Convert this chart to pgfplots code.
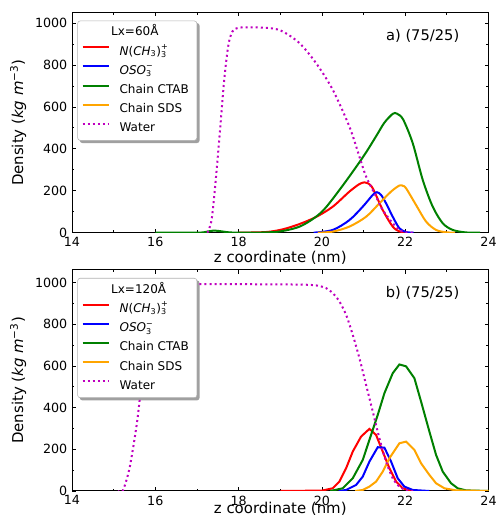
\documentclass[border=0pt]{standalone}
\usepackage{fontspec}
\setmainfont{DejaVu Sans}
\usepackage{amsmath}
\usepackage{pgfplots}
\pgfplotsset{compat=1.18}
\usetikzlibrary{backgrounds}
\definecolor{mpgreen}{HTML}{008000}
\definecolor{mporange}{HTML}{FFA500}
\definecolor{mpmag}{HTML}{BF00BF}

\pgfplotsset{
  dens/.style={
    scale only axis,width=312.4pt,
    xmin=14,xmax=24,ymin=0,
    xtick={14,16,...,24},ytick={0,200,...,1000},
    minor x tick num=1,minor y tick num=1,
    tick align=inside,xtick pos=both,ytick pos=both,
    major tick length=2.8pt,minor tick length=1.8pt,
    axis line style={line width=0.75pt},
    every tick/.style={black,line width=0.6pt},
    tick label style={font=\fontsize{9.5}{11}\selectfont},
    /pgf/number format/assume math mode=true,
    /pgf/number format/1000 sep={},
    label style={font=\fontsize{11.2}{13}\selectfont},
    xlabel={z coordinate (nm)},
    ylabel={Density (\textit{kg}\ \textit{m}\textsuperscript{−3})},
    ylabel style={at={(axis description cs:-0.109,0.5)},anchor=south,inner sep=0pt},
    legend cell align=left,
    legend image code/.code={\draw[#1] (0pt,3.5pt) -- (19.5pt,3.5pt);},
    legend style={at={(0,1)},anchor=north west,xshift=4pt,yshift=-6pt,
      draw=black!30,rounded corners=2pt,fill=white,
      font=\fontsize{9}{11}\selectfont,
      inner xsep=3pt,inner ysep=2.3pt,row sep=1.4pt,column sep=6.5pt,
      nodes={inner sep=1pt,text height=8pt,text depth=3pt}},
    every axis plot/.append style={line width=1.5pt},
  },
  water/.style={mpmag,dash pattern=on 1.5pt off 2.3pt},
}
\newcommand\legshadow[1]{%
  \begin{scope}[on background layer]
    \fill[black!50,opacity=0.75,rounded corners=2pt]
      ([shift={(1.8pt,-1.8pt)}]#1.south west) rectangle ([shift={(1.8pt,-1.8pt)}]#1.north east);
  \end{scope}}

\begin{document}
\begin{tikzpicture}
\useasboundingbox (0,0) rectangle (372pt,390pt);

% ---- a) Lx = 60 A
\begin{axis}[dens,at={(54pt,215.5pt)},anchor=south west,height=165pt,ymax=1050,
  xlabel style={at={(axis description cs:0.5,0)},anchor=north,yshift=-14pt,inner sep=0pt},
  legend style={name=legA}]
\addlegendimage{empty legend}
\addlegendentry{\hspace*{-6.3pt}Lx=60Å}
\addplot[red,smooth] coordinates {(18.0,0)(18.66,3)(19.06,16)(19.46,41)(19.86,75)(20.26,124)(20.66,196)(20.9,232)(21.02,240)(21.1,236)(21.22,212)(21.46,108)(21.7,29)(21.86,6)(22.0,0)};
\addlegendentry{$\textit{N}\text{(}\textit{CH}_{\text{3}}\text{)}_{\text{3}}^{\text{+}}$}
\addplot[blue,smooth] coordinates {(19.8,0)(20.26,13)(20.66,60)(20.98,124)(21.22,180)(21.32,193)(21.42,180)(21.54,140)(21.7,76)(21.86,21)(22.02,3)(22.2,0)};
\addlegendentry{$\textit{OSO}_{\text{3}}^{\text{−}}$}
\addplot[mpgreen,smooth] coordinates {(16.0,0)(17.0,0)(17.2,3)(17.4,10)(17.6,6)(17.8,1)(18.2,0)(18.6,1)(19.0,6)(19.5,32)(20.0,100)(20.5,225)(21.0,365)(21.3,460)(21.5,525)(21.7,567)(21.8,568)(21.95,540)(22.18,427)(22.42,252)(22.66,124)(22.9,45)(23.14,13)(23.46,1)(23.8,0)};
\addlegendentry{Chain CTAB\hspace*{2pt}}
\addplot[mporange,smooth] coordinates {(19.9,0)(20.26,5)(20.66,29)(21.06,76)(21.38,140)(21.66,196)(21.86,225)(21.95,223)(22.02,212)(22.26,132)(22.5,53)(22.74,13)(22.98,2)(23.2,0)};
\addlegendentry{Chain SDS}
\addplot[water,smooth] coordinates {(17.25,0)(17.35,60)(17.45,250)(17.55,480)(17.65,720)(17.75,890)(17.85,960)(18.0,978)(18.4,980)(18.8,975)(19.06,960)(19.46,905)(19.86,809)(20.26,682)(20.66,506)(20.9,363)(21.06,268)(21.3,172)(21.46,108)(21.7,45)(21.86,13)(22.0,2)(22.2,0)};
\addlegendentry{Water}
\node[anchor=east,font=\fontsize{11}{13}\selectfont] at (axis description cs:0.941,0.896) {a) (75/25)};
\end{axis}
\legshadow{legA}

% ---- b) Lx = 120 A
\begin{axis}[dens,at={(54pt,21.75pt)},anchor=south west,height=165.75pt,ymax=1060,
  xlabel style={at={(axis description cs:0.5,0)},anchor=north,yshift=-8.5pt,inner sep=0pt},
  legend style={name=legB}]
\addlegendimage{empty legend}
\addlegendentry{\hspace*{-6.3pt}Lx=120Å}
\addplot[red] coordinates {(19.0,0)(20.0,2)(20.26,13)(20.42,45)(20.58,109)(20.74,189)(20.94,261)(21.14,298)(21.3,269)(21.46,189)(21.62,109)(21.78,45)(21.94,13)(22.1,3)(22.3,0)};
\addlegendentry{$\textit{N}\text{(}\textit{CH}_{\text{3}}\text{)}_{\text{3}}^{\text{+}}$}
\addplot[blue] coordinates {(20.4,0)(20.58,5)(20.82,29)(20.98,69)(21.14,141)(21.34,210)(21.5,208)(21.66,141)(21.82,61)(21.98,21)(22.18,5)(22.58,0)};
\addlegendentry{$\textit{OSO}_{\text{3}}^{\text{−}}$}
\addplot[mpgreen] coordinates {(20.2,0)(20.5,13)(20.74,61)(20.98,149)(21.14,245)(21.34,365)(21.5,469)(21.7,565)(21.86,607)(22.02,598)(22.22,541)(22.38,429)(22.58,285)(22.74,173)(22.9,93)(23.1,37)(23.26,13)(23.46,3)(24,0)};
\addlegendentry{Chain CTAB\hspace*{2pt}}
\addplot[mporange] coordinates {(20.8,0)(20.98,5)(21.14,21)(21.3,45)(21.46,93)(21.62,157)(21.86,229)(22.02,237)(22.22,197)(22.38,133)(22.58,77)(22.74,37)(22.94,13)(23.22,3)(24,0)};
\addlegendentry{Chain SDS}
\addplot[water,smooth] coordinates {(15.1,0)(15.22,2)(15.38,109)(15.54,300)(15.62,429)(15.7,600)(15.8,790)(15.9,900)(16.0,950)(16.2,980)(16.5,990)(17.0,992)(18.0,992)(19.46,990)(19.86,986)(20.1,973)(20.26,949)(20.42,909)(20.58,845)(20.74,749)(20.9,637)(21.06,509)(21.22,381)(21.38,253)(21.54,141)(21.7,61)(21.86,21)(22.02,5)(22.2,0)};
\addlegendentry{Water}
\node[anchor=east,font=\fontsize{11}{13}\selectfont] at (axis description cs:0.941,0.898) {b) (75/25)};
\end{axis}
\legshadow{legB}
\end{tikzpicture}
\end{document}
